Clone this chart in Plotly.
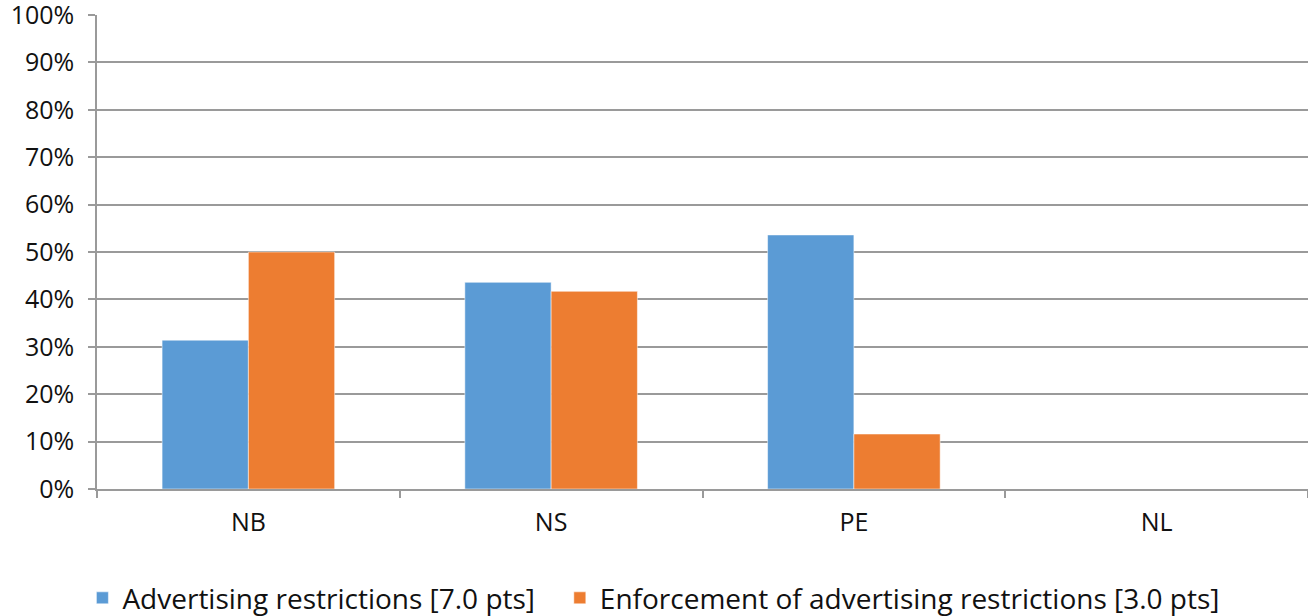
import plotly.graph_objects as go

# Provinces and share of maximum score per policy indicator (%)
provinces = ["NB", "NS", "PE", "NL"]
advertising = [31.4, 43.6, 53.6, 0]
enforcement = [50.0, 41.7, 11.6, 0]
series_names = [
    "Advertising restrictions [7.0 pts]",
    "Enforcement of advertising restrictions [3.0 pts]",
]
y_ticks = list(range(0, 101, 10))

font_family = "Open Sans, Noto Sans, DejaVu Sans, sans-serif"
text_color = "#111111"
axis_gray = "#9a9a9a"

fig = go.Figure()
fig.add_trace(go.Bar(
    x=provinces, y=advertising, name=series_names[0], legend="legend",
    marker=dict(color="#5B9BD5", line=dict(color="rgba(255,255,255,0.5)", width=1)),
))
fig.add_trace(go.Bar(
    x=provinces, y=enforcement, name=series_names[1], legend="legend2",
    marker=dict(color="#ED7D31", line=dict(color="rgba(255,255,255,0.5)", width=1)),
))

# Legends sit in the bottom strip, positioned against the whole figure
legend_style = dict(
    orientation="h", yref="container", yanchor="middle", y=0.029,
    xref="container", xanchor="left",
    font=dict(size=28, color=text_color), itemwidth=30,
    bgcolor="rgba(0,0,0,0)",
)

fig.update_layout(
    width=1308, height=616,
    margin=dict(l=97, r=0, t=15, b=127, autoexpand=False),
    paper_bgcolor="white", plot_bgcolor="white",
    barmode="group", bargap=0.43, bargroupgap=0,
    font=dict(family=font_family, size=24, color=text_color),
    showlegend=True,
    legend=dict(x=0.063, **legend_style),
    legend2=dict(x=0.428, **legend_style),
)

fig.update_xaxes(
    type="category",
    showgrid=False,
    showline=True, linecolor=axis_gray, linewidth=1.5,
    ticks="outside", tickson="boundaries", ticklen=7, tickcolor=axis_gray, tickwidth=1.5,
    tickfont=dict(size=25, color=text_color),
    ticklabelstandoff=10,
)
fig.update_yaxes(
    range=[0, 100],
    tickvals=y_ticks, ticktext=[f"{v}%" for v in y_ticks],
    showgrid=True, gridcolor=axis_gray, gridwidth=1.5,
    showline=True, linecolor=axis_gray, linewidth=1.5,
    ticks="outside", ticklen=7, tickcolor=axis_gray, tickwidth=1.5,
    tickfont=dict(size=25, color=text_color),
    ticklabelstandoff=9,
    ticklabeloverflow="allow",
    zeroline=False,
)

fig.write_html("out.html")
